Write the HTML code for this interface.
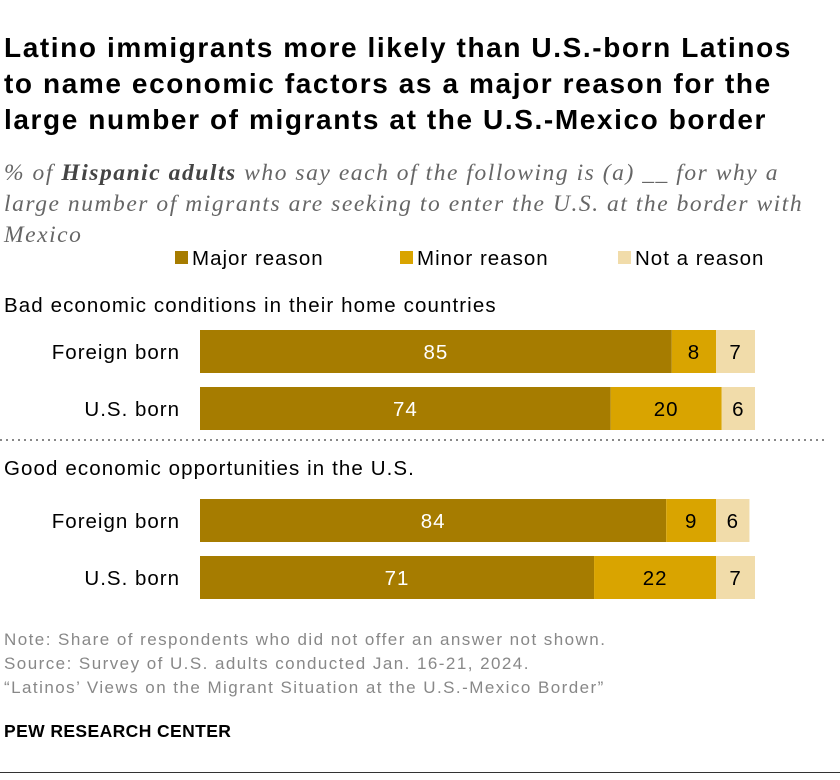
<!DOCTYPE html>
<html><head><meta charset="utf-8"><style>
body{margin:0;width:840px;height:780px;background:#fff;font-family:"Liberation Sans",sans-serif;position:relative;overflow:hidden}
.abs{position:absolute}
svg text{letter-spacing:1px}
</style></head><body>
<div class="abs" style="left:4px;top:30px;white-space:nowrap;font-size:28px;letter-spacing:1.6px;font-weight:bold;line-height:36px;color:#000">Latino immigrants more likely than U.S.-born Latinos<br>to name economic factors as a major reason for the<br>large number of migrants at the U.S.-Mexico border</div>
<div class="abs" style="left:4px;top:158px;white-space:nowrap;font-family:'Liberation Serif',serif;font-style:italic;font-size:23.5px;letter-spacing:1.55px;line-height:31px;color:#666">% of <b style="color:#444">Hispanic adults</b> who say each of the following is (a) __ for why a<br>large number of migrants are seeking to enter the U.S. at the border with<br>Mexico</div>
<svg class="abs" style="left:0;top:0" width="840" height="780" id="chart"></svg>
<div class="abs" style="left:4px;top:628px;font-size:17px;letter-spacing:1.45px;line-height:24px;color:#888;white-space:nowrap">Note: Share of respondents who did not offer an answer not shown.<br>Source: Survey of U.S. adults conducted Jan. 16-21, 2024.<br>“Latinos’ Views on the Migrant Situation at the U.S.-Mexico Border”</div>
<div class="abs" style="left:4px;top:721px;font-size:17.5px;letter-spacing:0.4px;font-weight:bold;color:#000">PEW RESEARCH CENTER</div>
<div class="abs" style="left:0;top:772px;width:840px;height:1px;background:#333"></div>
<script>
const groups=["Bad economic conditions in their home countries","Good economic opportunities in the U.S."];
const rows=["Foreign born","U.S. born","Foreign born","U.S. born"];
const major=[85,74,84,71];
const minor=[8,20,9,22];
const notR=[7,6,6,7];
const seriesNames=["Major reason","Minor reason","Not a reason"];
const colors=["#a67c00","#d9a400","#f1dcaa"];
const svg=document.getElementById('chart');
const NS="http://www.w3.org/2000/svg";
const x0=200,scale=5.55;
const xs=v=>x0+v*scale;
const rowY=[330,387,499,556],barH=43;
function mk(t,a,txt){const e=document.createElementNS(NS,t);for(const k in a)e.setAttribute(k,a[k]);if(txt!=null)e.textContent=txt;svg.appendChild(e);return e;}
const legX=[175,400,618];
seriesNames.forEach((n,i)=>{
 const r=mk('rect',{x:legX[i],y:251,width:13,height:13,fill:colors[i]});
 
 
 const t=mk('text',{x:legX[i]+17,y:265,'font-size':20.5,fill:'#000'},n);
 
 
});
[312,475].forEach((y,i)=>{
 const t=mk('text',{x:4,y:y,'font-size':20.5,fill:'#000',style:'letter-spacing:1.1px'},groups[i]);
 
 
});
const div=mk('line',{x1:0,x2:824,y1:440,y2:440,stroke:'#888','stroke-width':2,'stroke-dasharray':'2,4'});


rows.forEach((r,i)=>{
 const y=rowY[i];
 const lab=mk('text',{x:180,y:y+29,'font-size':20.5,'text-anchor':'end',fill:'#000'},r);
 
 
 const vals=[major[i],minor[i],notR[i]];
 let acc=0;
 vals.forEach((v,j)=>{
  const b=mk('rect',{x:xs(acc),y:y,width:v*scale,height:barH,fill:colors[j]});
  
  
  const t=mk('text',{x:xs(acc+v/2),y:y+29,'font-size':20.5,'text-anchor':'middle',fill:j==0?'#fff':'#000'},v);
  
  
  acc+=v;
 });
});
</script>
</body></html>
